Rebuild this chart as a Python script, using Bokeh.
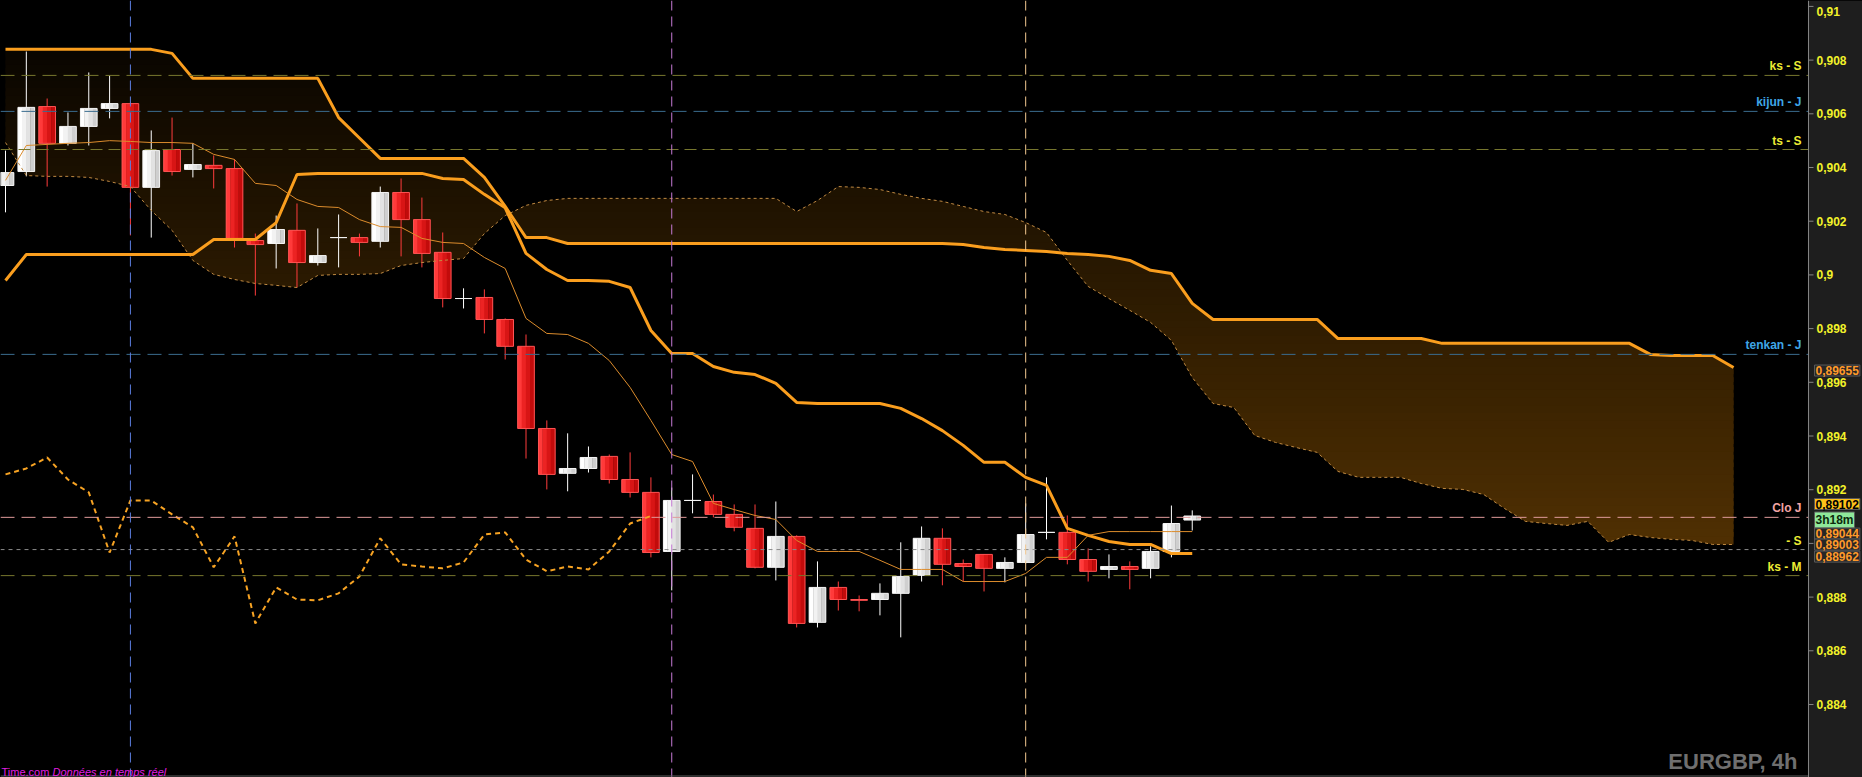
import numpy as np
from bokeh.plotting import figure
from bokeh.models import Span, Label, BoxAnnotation, ColumnDataSource
from bokeh.transform import dodge
from bokeh.core.properties import value
from bokeh.embed import file_html
from bokeh.resources import INLINE

# ---------------- data (EURGBP 4h) ----------------
opens = [0.90333, 0.90385, 0.90627, 0.90490, 0.90553, 0.90620, 0.90638, 0.90326, 0.90467, 0.90393,
         0.90408, 0.90396, 0.90128, 0.90117, 0.90166, 0.90046, 0.90139, 0.90139, 0.90125, 0.90307,
         0.90206, 0.90084, 0.89912, 0.89916, 0.89834, 0.89734, 0.89428, 0.89261, 0.89279, 0.89324,
         0.89238, 0.89190, 0.88970, 0.89160, 0.89156, 0.89108, 0.89056, 0.88911, 0.89026, 0.88706,
         0.88836, 0.88791, 0.88791, 0.88814, 0.88881, 0.89019, 0.88925, 0.88959, 0.88907, 0.88929,
         0.89041, 0.89041, 0.88940, 0.88903, 0.88914, 0.88907, 0.88970, 0.89087]
closes = [0.90381, 0.90624, 0.90490, 0.90553, 0.90620, 0.90638, 0.90326, 0.90463, 0.90385, 0.90411,
          0.90396, 0.90136, 0.90113, 0.90169, 0.90046, 0.90072, 0.90139, 0.90121, 0.90307, 0.90206,
          0.90080, 0.89912, 0.89912, 0.89834, 0.89734, 0.89428, 0.89257, 0.89279, 0.89320, 0.89238,
          0.89190, 0.88966, 0.89160, 0.89160, 0.89108, 0.89060, 0.88911, 0.89026, 0.88702, 0.88836,
          0.88791, 0.88788, 0.88814, 0.88877, 0.89019, 0.88922, 0.88914, 0.88907, 0.88929, 0.89033,
          0.89041, 0.88940, 0.88896, 0.88914, 0.88903, 0.88970, 0.89074, 0.89102]
highs = [0.90463, 0.90832, 0.90657, 0.90605, 0.90754, 0.90743, 0.90642, 0.90538, 0.90586, 0.90490,
         0.90445, 0.90430, 0.90154, 0.90221, 0.90266, 0.90173, 0.90225, 0.90154, 0.90329, 0.90359,
         0.90288, 0.90158, 0.89950, 0.89946, 0.89838, 0.89778, 0.89458, 0.89410, 0.89361, 0.89331,
         0.89339, 0.89246, 0.89208, 0.89257, 0.89182, 0.89145, 0.89145, 0.89156, 0.89030, 0.88933,
         0.88858, 0.88806, 0.88851, 0.89004, 0.89063, 0.89056, 0.88940, 0.88959, 0.88948, 0.89149,
         0.89246, 0.89104, 0.88981, 0.88959, 0.88933, 0.88989, 0.89141, 0.89123]
lows = [0.90233, 0.90367, 0.90329, 0.90482, 0.90482, 0.90583, 0.90147, 0.90139, 0.90370, 0.90363,
        0.90322, 0.90102, 0.89923, 0.90024, 0.89953, 0.90035, 0.90028, 0.90069, 0.90102, 0.90069,
        0.90028, 0.89879, 0.89875, 0.89782, 0.89685, 0.89316, 0.89201, 0.89194, 0.89264, 0.89223,
        0.89171, 0.88948, 0.88825, 0.89112, 0.89097, 0.89045, 0.88907, 0.88862, 0.88687, 0.88687,
        0.88750, 0.88747, 0.88732, 0.88650, 0.88858, 0.88844, 0.88858, 0.88821, 0.88855, 0.88925,
        0.89015, 0.88922, 0.88858, 0.88870, 0.88829, 0.88870, 0.88948, 0.89048]

tenkan = [0.90352, 0.90482, 0.90486, 0.90490, 0.90493, 0.90500, 0.90497, 0.90493, 0.90493, 0.90490,
          0.90449, 0.90430, 0.90341, 0.90333, 0.90281, 0.90255, 0.90251, 0.90206, 0.90180, 0.90177,
          0.90136, 0.90121, 0.90117, 0.90065, 0.90024, 0.89838, 0.89782, 0.89778, 0.89745, 0.89681,
          0.89581, 0.89458, 0.89331, 0.89305, 0.89149, 0.89126, 0.89104, 0.89089, 0.89011, 0.88970,
          0.88970, 0.88970, 0.88937, 0.88903, 0.88903, 0.88903, 0.88858, 0.88858, 0.88858, 0.88888,
          0.88948, 0.88948, 0.89030, 0.89044, 0.89044, 0.89044, 0.89044, 0.89044]
kijun = [0.89979, 0.90076, 0.90076, 0.90076, 0.90076, 0.90076, 0.90076, 0.90076, 0.90076, 0.90076,
         0.90132, 0.90132, 0.90132, 0.90195, 0.90374, 0.90378, 0.90378, 0.90378, 0.90378, 0.90378,
         0.90378, 0.90359, 0.90355, 0.90300, 0.90250, 0.90080, 0.90020, 0.89979, 0.89979, 0.89976,
         0.89953, 0.89793, 0.89707, 0.89707, 0.89659, 0.89637, 0.89629, 0.89596, 0.89525, 0.89521,
         0.89521, 0.89521, 0.89521, 0.89503, 0.89465, 0.89420, 0.89365, 0.89302, 0.89302, 0.89246,
         0.89216, 0.89056, 0.89030, 0.89007, 0.88996, 0.88996, 0.88962, 0.88962]
senkou_a = [0.90493, 0.90370, 0.90367, 0.90367, 0.90363, 0.90348, 0.90329, 0.90240, 0.90166, 0.90054,
            0.90002, 0.89983, 0.89968, 0.89961, 0.89953, 0.89998, 0.90002, 0.90002, 0.90005, 0.90035,
            0.90046, 0.90054, 0.90061, 0.90154, 0.90221, 0.90259, 0.90277, 0.90285, 0.90285, 0.90285,
            0.90285, 0.90285, 0.90285, 0.90285, 0.90285, 0.90285, 0.90285, 0.90285, 0.90236, 0.90277,
            0.90329, 0.90326, 0.90318, 0.90300, 0.90285, 0.90274, 0.90255, 0.90236, 0.90225, 0.90195,
            0.90158, 0.90054, 0.89957, 0.89912, 0.89868, 0.89823, 0.89756, 0.89618, 0.89521, 0.89506,
            0.89402, 0.89376, 0.89357, 0.89339, 0.89268, 0.89246, 0.89246, 0.89246, 0.89223, 0.89205,
            0.89201, 0.89182, 0.89130, 0.89082, 0.89074, 0.89067, 0.89082, 0.89004, 0.89033, 0.89022,
            0.89015, 0.89011, 0.88996, 0.88996]
senkou_b = [0.90840, 0.90840, 0.90840, 0.90840, 0.90840, 0.90840, 0.90840, 0.90840, 0.90825, 0.90732,
            0.90732, 0.90732, 0.90732, 0.90732, 0.90732, 0.90732, 0.90586, 0.90510, 0.90434, 0.90434,
            0.90434, 0.90434, 0.90434, 0.90363, 0.90255, 0.90139, 0.90139, 0.90117, 0.90117, 0.90117,
            0.90117, 0.90117, 0.90117, 0.90117, 0.90117, 0.90117, 0.90117, 0.90117, 0.90117, 0.90117,
            0.90117, 0.90117, 0.90117, 0.90117, 0.90117, 0.90117, 0.90113, 0.90102, 0.90095, 0.90091,
            0.90087, 0.90080, 0.90076, 0.90069, 0.90054, 0.90017, 0.90005, 0.89894, 0.89834, 0.89834,
            0.89834, 0.89834, 0.89834, 0.89834, 0.89763, 0.89763, 0.89763, 0.89763, 0.89763, 0.89745,
            0.89745, 0.89745, 0.89745, 0.89745, 0.89745, 0.89745, 0.89745, 0.89745, 0.89745, 0.89704,
            0.89700, 0.89700, 0.89700, 0.89655]
chikou_lag = 26

tick_vals = [0.884, 0.886, 0.888, 0.890, 0.892, 0.894, 0.896, 0.898, 0.900, 0.902, 0.904, 0.906, 0.908, 0.910]

ref_levels = [0.90743, 0.90609, 0.90467, 0.89704, 0.89097, 0.88977, 0.88880]
ref_names = ["ks - S", "kijun - J", "ts - S", "tenkan - J", "Clo J", "- S", "ks - M"]
ref_text_colors = ["#ecec34", "#3fa6e6", "#ecec34", "#3fa6e6", "#f2a4a4", "#ecec34", "#ecec34"]
ref_line_colors = ["#77772e", "#3b6d8f", "#77772e", "#3b6d8f", "#e09a9a", "#8a8a8a", "#77772e"]
ref_dashes = ["14 7", "14 7", "12 6", "14 7", "14 7", "4 4", "14 7"]

vline_idx = [6, 32, 49]
vline_colors = ["#5c7ee0", "#c67ad6", "#f2c890"]

box_texts = ["0,89655", "0,89102", "3h18m", "0,89044", "0,89003", "0,88962"]
box_levels = [0.89655, 0.89102, 0.89102, 0.89044, 0.89003, 0.88962]
box_offsets = [-3, 12, -4, -2, -2, -3]
box_text_colors = ["#ff9a2a", "#000000", "#0d2a0d", "#ff9a2a", "#ff9a2a", "#ff9a2a"]
box_fill_colors = ["#262626", "#ffc21a", "#8fe89a", "#262626", "#262626", "#262626"]

FONT = "Liberation Sans"

# ---------------- layout constants (pixels -> data) ----------------
X_START, X_END = -0.2402, 89.193      # 20.82 px per candle
Y_START, Y_END = 0.881281, 0.910220   # 26850 px per unit of price
AXIS_X = 86.599                       # position of the price scale
LABEL_TOP_CLAMP = 0.90981             # top tick label kept inside the chart

n = len(opens)
idx = list(range(n))
cloud_idx = list(range(len(senkou_a)))

p = figure(width=1862, height=777, x_range=(X_START, X_END), y_range=(Y_START, Y_END),
           output_backend="svg", toolbar_location=None,
           x_axis_location=None, y_axis_location=None,
           min_border_left=0, min_border_top=0, min_border_bottom=0, min_border_right=0,
           background_fill_color="#000000", border_fill_color="#000000",
           outline_line_color=None)
p.xgrid.visible = False
p.ygrid.visible = False

# ---------------- kumo (cloud) with vertical gradient ----------------
def band_color(v):
    r = 10 + (0.9084 - v) * 3800
    r = max(6.0, min(r, 95.0))
    return "#%02x%02x%02x" % (int(r), int(r * 0.6), int(r * 0.03))

xf = np.linspace(0, len(senkou_a) - 1, (len(senkou_a) - 1) * 20 + 1)
af = np.interp(xf, cloud_idx, senkou_a)
bf = np.interp(xf, cloud_idx, senkou_b)
lo = np.minimum(af, bf)
hi = np.maximum(af, bf)
nb = 64
edges = np.linspace(lo.min(), hi.max(), nb + 1)
step = edges[1] - edges[0]
for j in range(nb):
    b0 = edges[j]
    b1 = edges[j + 1] + (0.6 * step if j < nb - 1 else 0.0)
    p.varea(x=xf, y1=np.clip(lo, b0, b1), y2=np.clip(hi, b0, b1),
            fill_color=band_color(0.5 * (edges[j] + edges[j + 1])))

# ---------------- candles ----------------
bull = [i for i in idx if closes[i] >= opens[i]]
bear = [i for i in idx if closes[i] < opens[i]]

def make_src(ii):
    return ColumnDataSource(dict(
        x=[idx[i] for i in ii],
        high=[highs[i] for i in ii],
        low=[lows[i] for i in ii],
        top=[max(opens[i], closes[i]) for i in ii],
        bottom=[min(opens[i], closes[i]) for i in ii],
    ))

for ii, wick_col, strips, outline in [
    (bull, "#ffffff", ["#ffffff", "#f2f2f2", "#e2e2e2", "#cfcfcf"], "#f4f4f4"),
    (bear, "#ff3c3c", ["#ff3a3a", "#ec2323", "#d81515", "#c20b0b"], "#ff5454"),
]:
    s = make_src(ii)
    p.segment(x0="x", y0="high", x1="x", y1="low", source=s, line_color=wick_col, line_width=1)
    for off, col in zip([-0.3, -0.1, 0.1, 0.3], strips):
        p.vbar(x=dodge("x", off, range=p.x_range), width=0.215, top="top", bottom="bottom",
               source=s, fill_color=col, line_color=None)
    p.vbar(x="x", width=0.8, top="top", bottom="bottom", source=s,
           fill_color=None, line_color=outline, line_width=1)

# ---------------- ichimoku lines ----------------
p.line(cloud_idx, senkou_a, line_color="#c08a42", line_width=1, line_dash="3 3")
p.line(cloud_idx, senkou_b, line_color="#fa9e1e", line_width=3)
p.line(idx, kijun, line_color="#fa9e1e", line_width=3)
p.line(idx, tenkan, line_color="#dc8c2c", line_width=1)
p.line(idx[:n - chikou_lag], closes[chikou_lag:], line_color="#f7a323", line_width=2, line_dash="5 4")

# ---------------- reference lines ----------------
for lv, nm, tc, lc, dsh in zip(ref_levels, ref_names, ref_text_colors, ref_line_colors, ref_dashes):
    p.add_layout(Span(location=lv, dimension="width", line_color=lc, line_width=1, line_dash=dsh))
    p.add_layout(Label(x=1801, y=lv, x_units="screen", y_units="data", text=nm,
                       text_align="right", text_baseline="bottom", y_offset=2,
                       text_color=tc, text_font=FONT, text_font_size="12px",
                       text_font_style="bold"))

for vx, vc in zip(vline_idx, vline_colors):
    p.add_layout(Span(location=vx, dimension="height", line_color=vc, line_width=1, line_dash="10 6"))

# bottom border line of the chart
p.add_layout(Span(location=Y_START + 1.5 / 26850, dimension="width", line_color="#5e5e5e", line_width=1))

# ---------------- price scale (right) ----------------
p.add_layout(BoxAnnotation(left=AXIS_X, fill_color="#1e1e1e", fill_alpha=1.0, line_color=None))
p.add_layout(Span(location=AXIS_X, dimension="height", line_color="#858585", line_width=1,
                  level="overlay"))

tick_text = [("%.3f" % t).rstrip("0").rstrip(".").replace(".", ",") for t in tick_vals]
tick_label_y = [min(t, LABEL_TOP_CLAMP) for t in tick_vals]
p.ray(x=[AXIS_X] * len(tick_vals), y=tick_vals, length=5, length_units="screen", angle=0,
      line_color="#858585", line_width=1, level="overlay")
p.text(x=[AXIS_X] * len(tick_vals), y=tick_label_y, text=tick_text, x_offset=8,
       text_align="left", text_baseline="middle", text_color="#f2f22a",
       text_font=value(FONT), text_font_size="12px", text_font_style="bold", level="overlay")

for txt, lv, off, tc, bg in zip(box_texts, box_levels, box_offsets, box_text_colors, box_fill_colors):
    p.add_layout(Label(x=AXIS_X, y=lv, x_units="data", y_units="data", x_offset=6, y_offset=off,
                       text=txt, text_align="left", text_baseline="middle",
                       text_color=tc, text_font=FONT, text_font_size="12px",
                       text_font_style="bold", background_fill_color=bg,
                       border_line_color="#5a5a5a", padding=1, level="overlay"))

# ---------------- texts ----------------
p.add_layout(Label(x=1797, y=16, x_units="screen", y_units="screen", text="EURGBP, 4h",
                   text_align="right", text_baseline="alphabetic", text_color="#6f6f6f",
                   text_font=FONT, text_font_size="22px", text_font_style="bold"))
p.add_layout(Label(x=1, y=6, x_units="screen", y_units="screen", text="Time.com",
                   text_align="left", text_baseline="alphabetic", text_color="#e21ee2",
                   text_font=FONT, text_font_size="11px"))
p.add_layout(Label(x=52, y=6, x_units="screen", y_units="screen", text="Données en temps réel",
                   text_align="left", text_baseline="alphabetic", text_color="#e21ee2",
                   text_font=FONT, text_font_size="11px", text_font_style="italic"))

html = file_html(p, INLINE, title="EURGBP, 4h")
html = html.replace("<head>", "<head>\n<style>html, body { margin: 0; padding: 0; overflow: hidden; "
                    "background-color: #000000; }</style>", 1)
open("out.html", "w").write(html)
